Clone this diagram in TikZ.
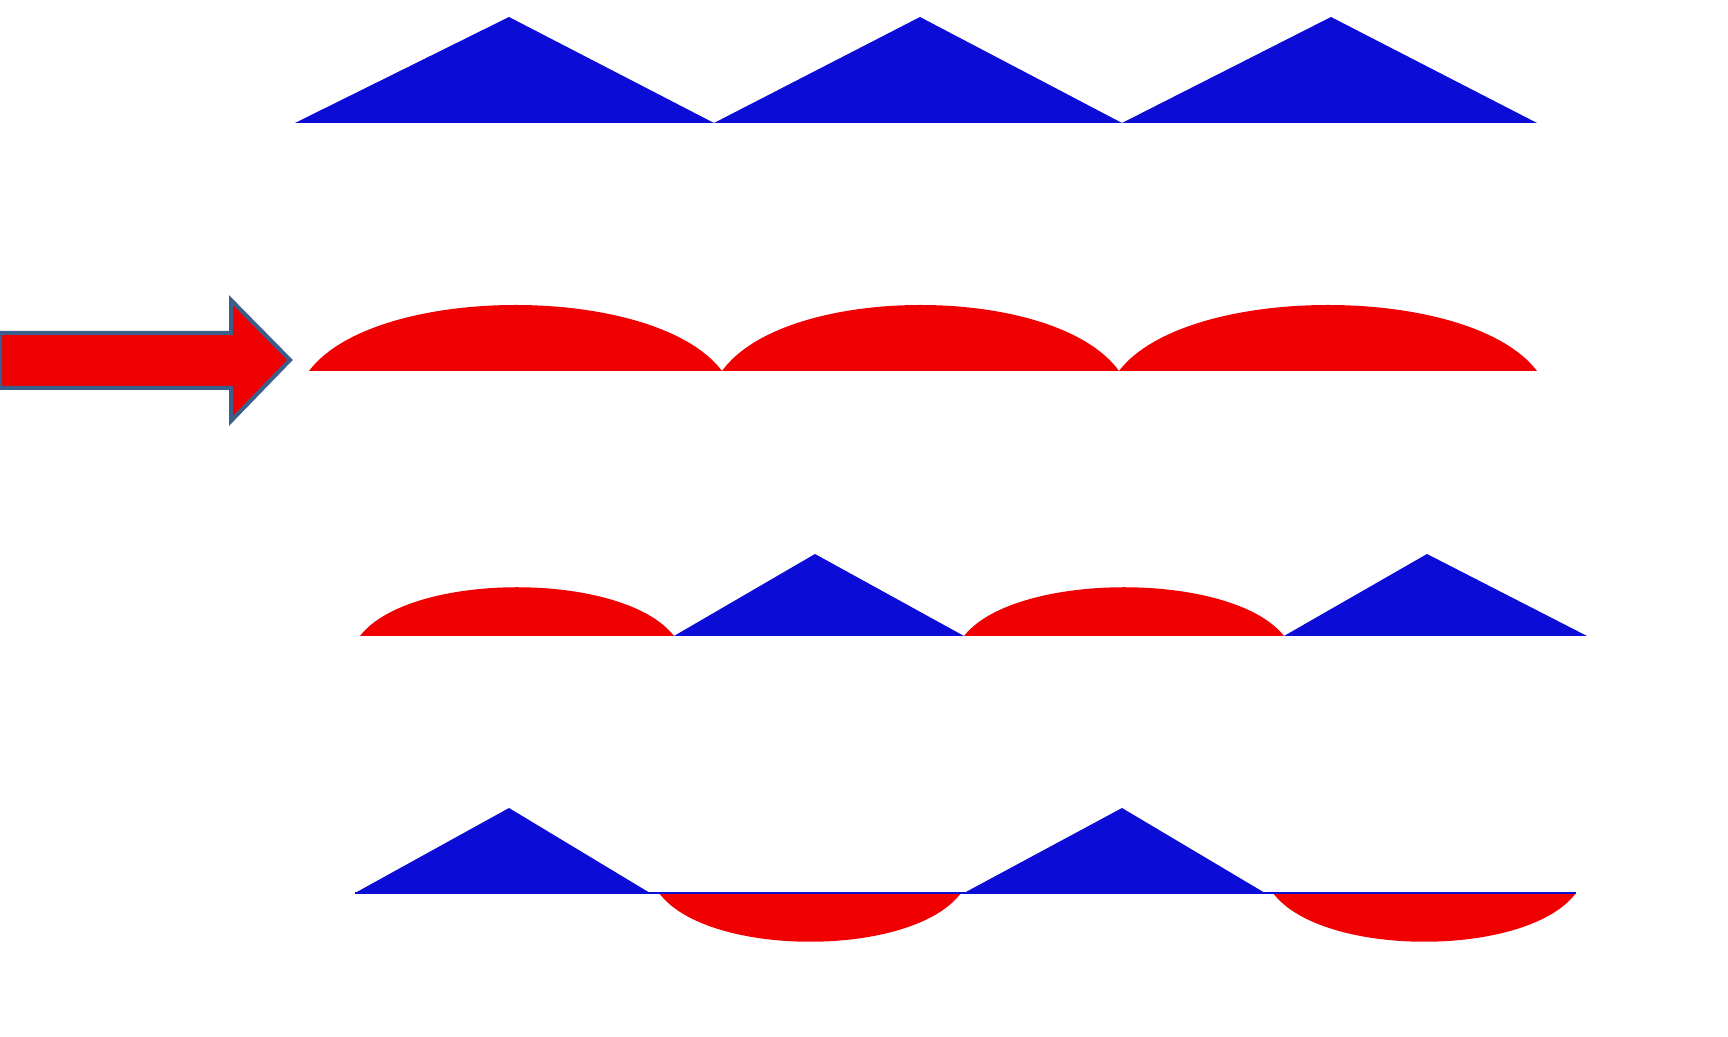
\documentclass[tikz,border=0pt]{standalone}
\usepackage{tikz}

\definecolor{triblue}{RGB}{12,12,215}
\definecolor{domered}{RGB}{240,0,0}
\definecolor{arrowedge}{RGB}{58,95,140}

% triangle: left x, peak x, right x, base y, peak y
\newcommand{\peakshape}[5]{\fill[tri] (#1,#4) -- (#2,#5) -- (#3,#4) -- cycle;}
% dome: left x, right x, base y, control y
\newcommand{\domeshape}[4]{%
  \fill[dome] (#1,#3) .. controls ({#1+0.16*(#2-#1)},#4) and ({#2-0.16*(#2-#1)},#4) .. (#2,#3) -- cycle;}

\begin{document}
\begin{tikzpicture}[x=0.4pt, y=-0.4pt,
      tri/.style={fill=triblue},
      dome/.style={fill=domered},
      bigarrow/.style={fill=domered, draw=arrowedge, line width=1.6pt, line join=miter}]
    \useasboundingbox (0,0) rectangle (1728,1037);

    % row 1: triangles only
    \foreach \a/\p/\b in {295/509/714, 714/920/1122, 1122/1331/1537}
      {\peakshape{\a}{\p}{\b}{123}{17}}

    % row 2: domes only
    \foreach \a/\b in {309/722, 722/1119, 1119/1537}
      {\domeshape{\a}{\b}{371}{283}}
    \draw[bigarrow] (0,333) -- (231,333) -- (231,300) -- (290,360)
      -- (231,421) -- (231,388) -- (0,388) -- cycle;

    % row 3: alternating, both above the line
    \domeshape{360}{674}{636}{571}
    \domeshape{964}{1284}{636}{571}
    \peakshape{674}{815}{964}{636}{554}
    \peakshape{1284}{1427}{1587}{636}{554}

    % row 4: triangles above, domes below
    \peakshape{355}{509}{650}{893}{808}
    \peakshape{964}{1122}{1265}{893}{808}
    \domeshape{659}{961}{893}{958}
    \domeshape{1273}{1576}{893}{958}
    \draw[triblue, line width=0.8pt] (355,893) -- (1576,893);
  \end{tikzpicture}
\end{document}
